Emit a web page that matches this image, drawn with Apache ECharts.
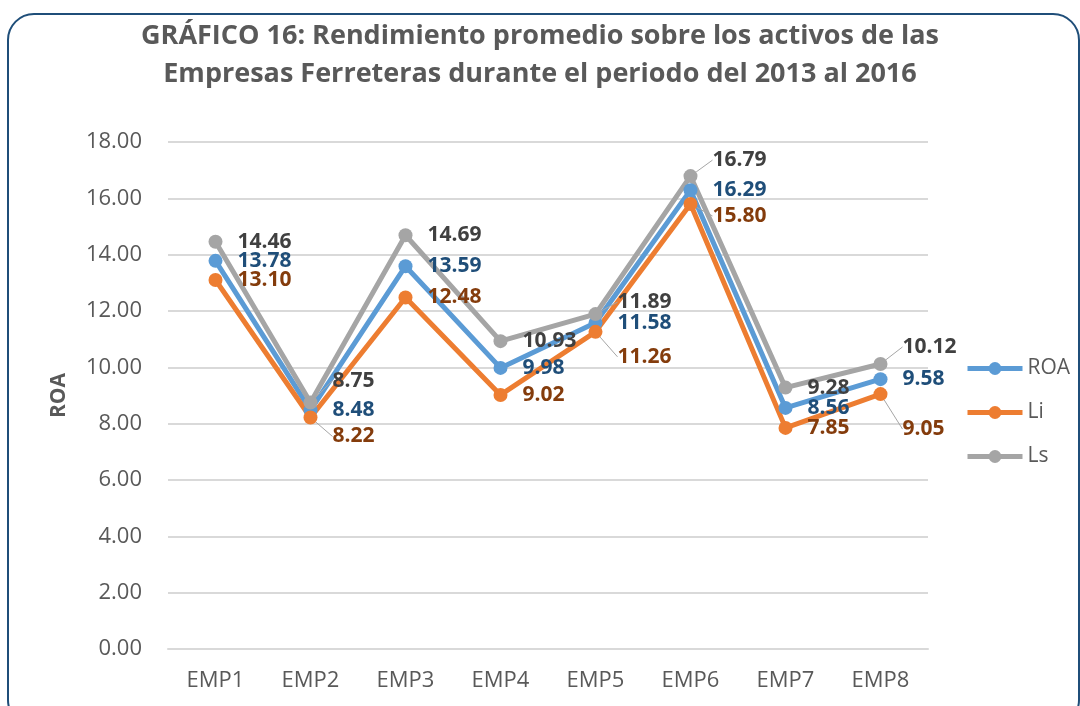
<!DOCTYPE html>
<html>
<head>
<meta charset="utf-8">
<script src="https://cdn.jsdelivr.net/npm/echarts@6/dist/echarts.min.js"></script>
<style>
  html, body { margin: 0; padding: 0; background: #ffffff; }
  #chart { width: 1080px; height: 706px; }
</style>
</head>
<body>
<div id="chart"></div>
<script>
// ---- data ----
const categories = ['EMP1', 'EMP2', 'EMP3', 'EMP4', 'EMP5', 'EMP6', 'EMP7', 'EMP8'];
const roa = [13.78, 8.48, 13.59, 9.98, 11.58, 16.29, 8.56, 9.58];
const li  = [13.10, 8.22, 12.48, 9.02, 11.26, 15.80, 7.85, 9.05];
const ls  = [14.46, 8.75, 14.69, 10.93, 11.89, 16.79, 9.28, 10.12];
const seriesNames = ['ROA', 'Li', 'Ls'];
const yTicks = { min: 0, max: 18, interval: 2 };
const titleText = 'GRÁFICO 16: Rendimiento promedio sobre los activos de las\nEmpresas Ferreteras durante el periodo del 2013 al 2016';

// ---- label nudges (vertical shift in px of moved labels, by series then point) ----
const labelShift = {
  1: { 1: 19, 4: 25, 5: 12, 7: 35 },      // Li
  2: { 1: -22, 4: -12, 5: -16, 7: -17 }   // Ls
};

const lineColors = ['#5B9BD5', '#ED7D31', '#A5A5A5'];
const labelColors = ['#1F4E79', '#843C0C', '#404040'];
const FONT = '"Open Sans", "Liberation Sans", sans-serif';

function buildData(values, sIdx) {
  const shifts = labelShift[sIdx] || {};
  return values.map((v, i) => {
    const item = { value: v };
    if (shifts[i] !== undefined) item.labelLine = { show: true };
    return item;
  });
}

function makeSeries(name, values, sIdx) {
  return {
    name: name,
    type: 'line',
    data: buildData(values, sIdx),
    symbol: 'circle',
    symbolSize: 14,
    lineStyle: { width: 5, color: lineColors[sIdx] },
    itemStyle: { color: lineColors[sIdx] },
    label: {
      show: true,
      position: 'right',
      distance: 15,
      formatter: p => Number(p.value).toFixed(2),
      fontFamily: FONT,
      fontSize: 21,
      fontWeight: 'bold',
      color: labelColors[sIdx]
    },
    labelLine: {
      show: false,
      lineStyle: { color: '#A6A6A6', width: 1 }
    },
    labelLayout: function (params) {
      const s = labelShift[params.seriesIndex];
      if (s && s[params.dataIndex] !== undefined) {
        return { dy: s[params.dataIndex] };
      }
      return {};
    },
    emphasis: { disabled: true },
    animation: false
  };
}

const chart = echarts.init(document.getElementById('chart'), null, { renderer: 'canvas' });
chart.setOption({
  backgroundColor: '#ffffff',
  animation: false,
  title: {
    text: titleText,
    left: 'center',
    top: 12,
    textStyle: {
      fontFamily: FONT,
      fontSize: 27,
      fontWeight: 'bold',
      color: '#595959',
      lineHeight: 38
    }
  },
  graphic: [{
    type: 'rect',
    silent: true,
    shape: { x: 8, y: 14, width: 1071, height: 712, r: 26 },
    style: { fill: 'none', stroke: '#1F4E79', lineWidth: 2 }
  }],
  legend: {
    orient: 'vertical',
    left: 960,
    top: 353,
    itemWidth: 55,
    itemHeight: 16,
    itemGap: 23,
    data: seriesNames,
    lineStyle: { width: 5 },
    textStyle: { fontFamily: FONT, fontSize: 21, color: '#595959', lineHeight: 21 }
  },
  grid: { left: 168, right: 152, top: 142, bottom: 57, containLabel: false },
  xAxis: {
    type: 'category',
    data: categories,
    boundaryGap: true,
    axisLine: { show: true, lineStyle: { color: '#D9D9D9', width: 2 } },
    axisTick: { show: false },
    axisLabel: { fontFamily: FONT, fontSize: 22, color: '#595959', margin: 21 }
  },
  yAxis: {
    type: 'value',
    min: yTicks.min,
    max: yTicks.max,
    interval: yTicks.interval,
    name: 'ROA',
    nameLocation: 'middle',
    nameGap: 98,
    nameTextStyle: { fontFamily: FONT, fontSize: 21, fontWeight: 'bold', color: '#595959' },
    axisLine: { show: false },
    axisTick: { show: false },
    axisLabel: {
      fontFamily: FONT, fontSize: 22, color: '#595959', margin: 26,
      formatter: v => v.toFixed(2)
    },
    splitLine: { lineStyle: { color: '#D9D9D9', width: 2 } }
  },
  series: [
    makeSeries(seriesNames[0], roa, 0),
    makeSeries(seriesNames[1], li, 1),
    makeSeries(seriesNames[2], ls, 2)
  ]
});
</script>
</body>
</html>
